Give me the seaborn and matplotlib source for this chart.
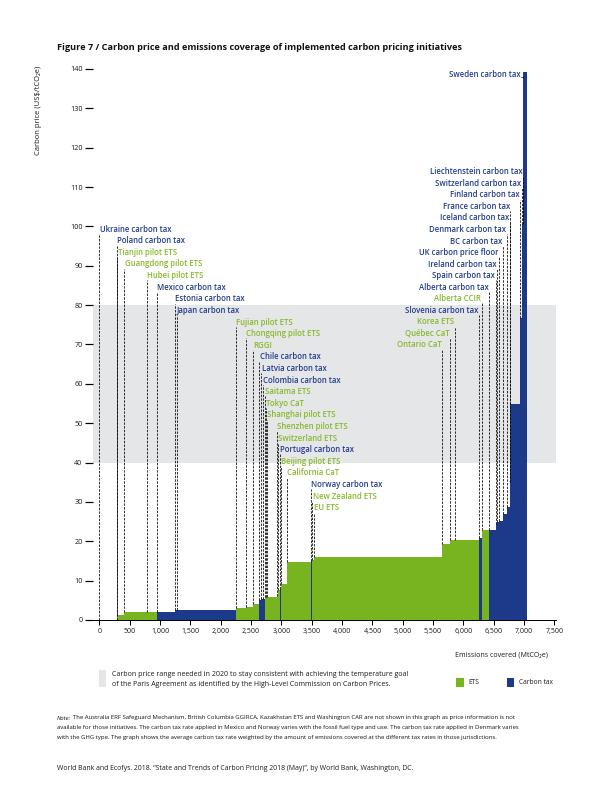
import numpy as np
import pandas as pd
import matplotlib
matplotlib.use("Agg")
import matplotlib.pyplot as plt
import seaborn as sns
from matplotlib.patches import Rectangle

# ---------------- data ----------------
names = [
    "Ukraine carbon tax", "Poland carbon tax", "Tianjin pilot ETS", "Guangdong pilot ETS",
    "Hubei pilot ETS", "Mexico carbon tax", "Estonia carbon tax", "Japan carbon tax",
    "Fujian pilot ETS", "Chongqing pilot ETS", "RGGI", "Chile carbon tax",
    "Latvia carbon tax", "Colombia carbon tax", "Saitama ETS", "Tokyo CaT",
    "Shanghai pilot ETS", "Shenzhen pilot ETS", "Switzerland ETS", "Portugal carbon tax",
    "Beijing pilot ETS", "California CaT", "Norway carbon tax", "New Zealand ETS",
    "EU ETS", "Ontario CaT", "Québec CaT", "Korea ETS",
    "Slovenia carbon tax", "Alberta CCIR", "Alberta carbon tax", "Spain carbon tax",
    "Ireland carbon tax", "UK carbon price floor", "BC carbon tax", "Denmark carbon tax",
    "Iceland carbon tax", "France carbon tax", "Finland carbon tax", "Switzerland carbon tax",
    "Liechtenstein carbon tax", "Sweden carbon tax",
]
types = [
    "Carbon tax", "Carbon tax", "ETS", "ETS",
    "ETS", "Carbon tax", "Carbon tax", "Carbon tax",
    "ETS", "ETS", "ETS", "Carbon tax",
    "Carbon tax", "Carbon tax", "ETS", "ETS",
    "ETS", "ETS", "ETS", "Carbon tax",
    "ETS", "ETS", "Carbon tax", "ETS",
    "ETS", "ETS", "ETS", "ETS",
    "Carbon tax", "ETS", "Carbon tax", "Carbon tax",
    "Carbon tax", "Carbon tax", "Carbon tax", "Carbon tax",
    "Carbon tax", "Carbon tax", "Carbon tax", "Carbon tax",
    "Carbon tax", "Carbon tax",
]
# emissions covered (MtCO2e)
emissions = [
    287, 10, 115, 369,
    165, 301, 28, 972,
    170, 120, 99, 33,
    23, 33, 20, 20,
    158, 21, 33, 13,
    97, 396, 27, 27,
    2114, 127, 82, 400,
    40, 125, 105, 30,
    30, 56, 65, 55,
    9, 163, 28, 18,
    1, 60,
]
# carbon price (US$/tCO2e)
prices = [
    0.02, 0.07, 1.2, 2.0,
    2.0, 2.0, 2.6, 2.6,
    3.1, 3.3, 4.0, 5.0,
    5.3, 5.4, 5.9, 5.9,
    5.9, 6.2, 7.5, 8.0,
    9.1, 14.8, 14.9, 15.2,
    16.0, 19.2, 20.2, 20.3,
    20.9, 22.9, 22.9, 24.5,
    24.8, 25.2, 26.9, 28.8,
    35.1, 55.0, 76.7, 100.7,
    100.7, 139.1,
]
x_ticks = list(range(0, 7501, 500))
y_ticks = list(range(0, 141, 10))
band_low, band_high = 40, 80

# ---------------- style ----------------
GREEN = "#78b41f"
BLUE = "#1d3a8a"
GREEN_TXT = "#86b92a"
BLUE_TXT = "#233c8c"
GREY = "#e5e6e7"
TXT = "#1a1a1a"

sns.set_theme(style="white")
plt.rcParams['font.family'] = ['Open Sans', 'DejaVu Sans']

W, H = 612, 792
fig = plt.figure(figsize=(W / 72, H / 72), dpi=72)
ax = fig.add_axes([93 / W, 1 - 620 / H, (556 - 93) / W, (620 - 65) / H])

edges = np.concatenate([[0], np.cumsum(emissions)]).astype(float)
starts = edges[:-1]
mids = (edges[:-1] + edges[1:]) / 2
df = pd.DataFrame(dict(name=names, type=types, mid=mids, price=prices))

ax.axhspan(band_low, band_high, color=GREY, lw=0, zorder=0)

sns.histplot(data=df, x="mid", weights="price", bins=edges.tolist(), hue="type",
             hue_order=["ETS", "Carbon tax"],
             palette={"ETS": GREEN, "Carbon tax": BLUE},
             multiple="layer", alpha=1, linewidth=0, legend=False,
             ax=ax, zorder=2)

ax.set_xlim(-105, 7525)
ax.set_ylim(0, 141)
ax.set_xlabel("")
ax.set_ylabel("")

# labels & dashed leader lines
LFS = 7.7
LFW = "semibold"
n_left = 25
for i in range(len(names)):
    col = GREEN_TXT if types[i] == "ETS" else BLUE_TXT
    x0 = starts[i]
    if i < n_left:
        ly = 99.3 - 2.95 * i
        ax.text(x0 + 5, ly, names[i], ha="left", va="center", fontsize=LFS,
                fontweight=LFW, color=col, zorder=5)
        ax.plot([x0, x0], [prices[i], ly - 1.2], ls=(0, (3, 1.6)), color="black",
                lw=0.8, zorder=4)
    elif i < len(names) - 1:
        j = i - n_left
        ly = 69.9 + 2.93 * j
        ax.text(x0 - 8, ly, names[i], ha="right", va="center", fontsize=LFS,
                fontweight=LFW, color=col, zorder=5)
        ax.plot([x0, x0], [prices[i], ly - 1.2], ls=(0, (3, 1.6)), color="black",
                lw=0.8, zorder=4)
    else:
        ly = 138.7
        ax.text(x0 - 45, ly, names[i], ha="right", va="center", fontsize=LFS,
                fontweight=LFW, color=col, zorder=5)
        ax.plot([x0 - 35, x0], [ly - 0.8, ly - 0.8], color="black", lw=0.7, zorder=4)

# axes styling
for s in ["top", "right", "left"]:
    ax.spines[s].set_visible(False)
ax.spines["bottom"].set_color("black")
ax.spines["bottom"].set_linewidth(1.0)
ax.set_yticks(y_ticks)
ax.set_yticklabels([str(v) for v in y_ticks])
ax.set_xticks(x_ticks)
ax.set_xticklabels([f"{v:,}" for v in x_ticks])
ax.tick_params(axis="y", left=True, direction="out", length=8, width=1.2,
               color="black", labelsize=7.3, pad=2.5, labelcolor=TXT)
ax.tick_params(axis="x", bottom=True, direction="out", length=5, width=1.0,
               color="black", labelsize=7.0, pad=3, labelcolor=TXT)
ax.grid(False)

# axis titles
fig.text(38 / W, 1 - 66 / H, "Carbon price (US\\$/tCO₂e)", rotation=90, ha="center",
         va="top", fontsize=7.6, color=TXT)
fig.text(548 / W, 1 - 655 / H, "Emissions covered (MtCO₂e)", ha="right", va="center",
         fontsize=7.1, color=TXT)

# title
fig.text(57 / W, 1 - 47 / H,
         "Figure 7 / Carbon price and emissions coverage of implemented carbon pricing initiatives",
         ha="left", va="center", fontsize=9.1, fontweight="bold", color="#111111")

# legend
fig.add_artist(Rectangle((99 / W, 1 - 687 / H), 7 / W, 17 / H, transform=fig.transFigure,
                         color=GREY, lw=0))
fig.text(112 / W, 1 - 675 / H,
         "Carbon price range needed in 2020 to stay consistent with achieving the temperature goal",
         ha="left", va="center", fontsize=7.0, color=TXT)
fig.text(112 / W, 1 - 684 / H,
         "of the Paris Agreement as identified by the High-Level Commission on Carbon Prices.",
         ha="left", va="center", fontsize=7.0, color=TXT)
fig.add_artist(Rectangle((456 / W, 1 - 687 / H), 8 / W, 9 / H, transform=fig.transFigure,
                         color=GREEN, lw=0))
fig.text(468 / W, 1 - 683 / H, "ETS", ha="left", va="center", fontsize=6.6, color=TXT)
fig.add_artist(Rectangle((507 / W, 1 - 687 / H), 7 / W, 9 / H, transform=fig.transFigure,
                         color=BLUE, lw=0))
fig.text(519 / W, 1 - 683 / H, "Carbon tax", ha="left", va="center", fontsize=6.6,
         color=TXT)

# notes
note_fs = 5.95
fig.text(57 / W, 1 - 718 / H, "Note:", ha="left", va="center", fontsize=note_fs,
         style="italic", color="#111111")
fig.text(73 / W, 1 - 718 / H,
         "The Australia ERF Safeguard Mechanism, British Columbia GGIRCA, Kazakhstan ETS and Washington CAR are not shown in this graph as price information is not",
         ha="left", va="center", fontsize=note_fs, color="#111111")
fig.text(57 / W, 1 - 728 / H,
         "available for those initiatives. The carbon tax rate applied in Mexico and Norway varies with the fossil fuel type and use. The carbon tax rate applied in Denmark varies",
         ha="left", va="center", fontsize=note_fs, color="#111111")
fig.text(57 / W, 1 - 738 / H,
         "with the GHG type. The graph shows the average carbon tax rate weighted by the amount of emissions covered at the different tax rates in those jurisdictions.",
         ha="left", va="center", fontsize=note_fs, color="#111111")

fig.text(57 / W, 1 - 769 / H,
         "World Bank and Ecofys. 2018. “State and Trends of Carbon Pricing 2018 (May)”, by World Bank, Washington, DC.",
         ha="left", va="center", fontsize=6.9, color=TXT)

fig.savefig("out.png", dpi=72)
